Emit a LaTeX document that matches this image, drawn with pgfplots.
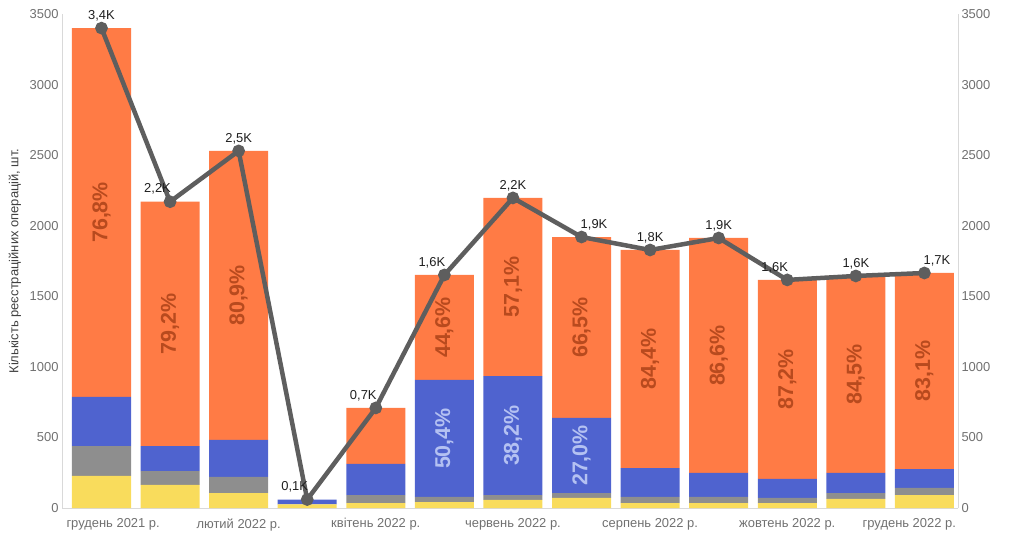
\documentclass[border=0pt]{standalone}
\usepackage{fontspec}
\setmainfont{Liberation Sans}
\usepackage{pgfplots}
\usepackage{pgfplotstable}
\pgfplotsset{compat=1.18}
\definecolor{cyel}{HTML}{F9DC5C}
\definecolor{cgray}{HTML}{8E8E8E}
\definecolor{cblue}{HTML}{4F63CF}
\definecolor{corange}{HTML}{FF7B45}
\definecolor{cline}{HTML}{5E5E5E}
\definecolor{cpctO}{HTML}{B84A1E}
\definecolor{cpctB}{HTML}{B4C1F2}
\definecolor{ctick}{HTML}{707070}
\definecolor{caxis}{HTML}{D9D9D9}

\pgfplotstableread{
x yel gray blue orange
0 227 212 348 2613
1 163 99 177 1731
2 106 114 262 2048
3 25 3 32 0
4 35 57 220 397
5 42 36 829 744
6 57 35 843 1262
7 71 35 532 1282
8 35 43 205 1545
9 35 43 170 1665
10 35 36 135 1410
11 64 42 142 1396
12 92 50 134 1389
}\bars

\pgfplotstableread{
x total
0 3400
1 2170
2 2530
3 60
4 709
5 1651
6 2197
7 1920
8 1828
9 1913
10 1616
11 1644
12 1665
}\totals

\pgfplotsset{
  base/.style={
    scale only axis, width=896bp, height=494bp,
    xmin=-0.576, xmax=12.49, ymin=0, ymax=3500,
    ytick={0,500,...,3500},
    major tick length=0,
    /pgf/number format/1000 sep={},
    /pgf/number format/assume math mode=true,
    tick label style={font=\fontsize{13}{15}\selectfont, text=ctick},
    axis line style={caxis, line width=1bp},
    clip=false,
  },
  lbl/.style={draw=none, mark=none, nodes near coords, point meta=explicit symbolic,
    every node near coord/.append style={font=\fontsize{13}{15}\selectfont, text=black!88, inner sep=1bp}},
  pct/.style={draw=none, mark=none, nodes near coords, point meta=explicit symbolic,
    every node near coord/.append style={rotate=90, anchor=center, yshift=0pt, inner sep=0pt, font=\fontsize{21.5}{24}\selectfont\bfseries}},
}

\begin{document}
\begin{tikzpicture}
\useasboundingbox (0,0) rectangle (1024bp,542bp);
\begin{axis}[base, at={(62bp,34bp)}, anchor=south west,
  axis x line*=bottom, axis y line*=left,
  ybar stacked, bar width=59bp,
  xtick={0.17,2,4,6,8,10,11.78},
  xticklabels={грудень 2021 р., лютий 2022 р., квітень 2022 р., червень 2022 р., серпень 2022 р., жовтень 2022 р., грудень 2022 р.},
  xticklabel style={yshift=-7bp},
  ylabel={Кількість реєстраційних операцій, шт.},
  ylabel style={at={(axis description cs:-0.0525,0.5)}, anchor=center, font=\fontsize{13}{15}\selectfont, text=black!75},
]
\addplot[fill=cyel, draw=none] table[x=x, y=yel] {\bars};
\addplot[fill=cgray, draw=none] table[x=x, y=gray] {\bars};
\addplot[fill=cblue, draw=none] table[x=x, y=blue] {\bars};
\addplot[fill=corange, draw=none] table[x=x, y=orange] {\bars};
\end{axis}
\begin{axis}[base, at={(62bp,34bp)}, anchor=south west,
  axis y line*=right, axis x line=none, xtick=\empty,
]
\addplot[cline, line width=4.5bp, mark=*, mark size=4bp, mark options={solid, fill=cline, draw=none}] table[x=x, y=total] {\totals};
% line labels
\addplot[lbl, every node near coord/.append style={anchor=south, yshift=6bp}] coordinates {
 (0,3400) [3,4K] (2,2530) [2,5K] (6,2197) [2,2K] (8,1828) [1,8K] (9,1913) [1,9K] (11,1644) [1,6K]};
\addplot[lbl, every node near coord/.append style={anchor=south east, xshift=2bp, yshift=6bp}] coordinates {
 (1,2170) [2,2K] (3,60) [0,1K] (4,709) [0,7K] (5,1651) [1,6K] (10,1616) [1,6K]};
\addplot[lbl, every node near coord/.append style={anchor=south west, xshift=-2bp, yshift=6bp}] coordinates {
 (7,1920) [1,9K] (12,1665) [1,7K]};
% percentage labels
\addplot[pct, every node near coord/.append style={text=cpctO}] coordinates {
 (0,2094) [76,8\%] (1,1304) [79,2\%] (2,1506) [80,9\%] (5,1279) [44,6\%] (6,1566) [57,1\%]
 (7,1279) [66,5\%] (8,1055) [84,4\%] (9,1080) [86,6\%] (10,911) [87,2\%] (11,946) [84,5\%] (12,970) [83,1\%]};
\addplot[pct, every node near coord/.append style={text=cpctB}] coordinates {
 (5,492) [50,4\%] (6,513) [38,2\%] (7,372) [27,0\%]};
\end{axis}
\end{tikzpicture}
\end{document}
